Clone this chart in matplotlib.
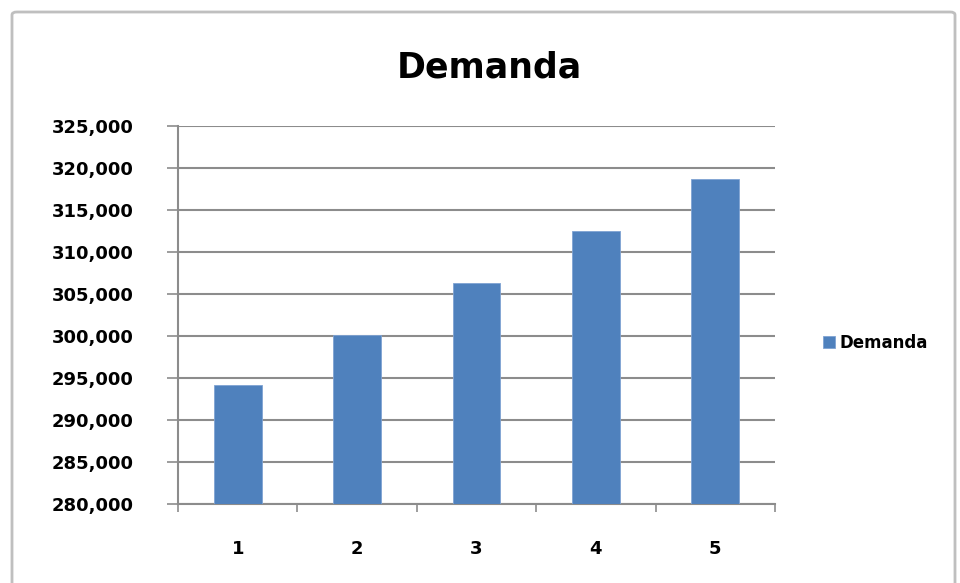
import matplotlib.pyplot as plt
from matplotlib.patches import FancyBboxPatch
from matplotlib.ticker import FuncFormatter, FixedLocator


# Valores
periodos = ["1", "2", "3", "4", "5"]
demanda = [294200, 300100, 306250, 312450, 318650]
y_ticks = list(range(280000, 325001, 5000))

fig = plt.figure(figsize=(9.6, 5.83), dpi=100)

# Marco exterior del gráfico (el borde inferior queda fuera de la imagen)
fig.patches.append(FancyBboxPatch((12/960, -0.05), 943/960, 1.05 - 12/583, boxstyle="round,pad=0,rounding_size=0.005",
                                  transform=fig.transFigure, fill=False, edgecolor='#bfbfbf', linewidth=2))

ax = fig.add_axes([178/960, 79/583, 597/960, 378/583])

x = range(1, len(periodos) + 1)
ax.bar(x, demanda, width=0.4, color='#4F81BD', edgecolor='#7fa3d3', linewidth=0.6, label='Demanda', zorder=3)

ax.set_ylim(280000, 325000)
ax.set_xlim(0.5, 5.5)
ax.set_yticks(y_ticks)
ax.yaxis.set_major_formatter(FuncFormatter(lambda v, p: f"{int(v):,}"))
ax.grid(axis='y', color='#8c8c8c', linewidth=1.5, zorder=0)

ax.set_xticks(list(x))
ax.set_xticklabels(periodos)
ax.xaxis.set_minor_locator(FixedLocator([0.5 + i for i in range(6)]))
ax.tick_params(axis='x', which='major', length=0, pad=26)
ax.tick_params(axis='x', which='minor', length=6, width=1.2, color='#8c8c8c', direction='out')
ax.tick_params(axis='y', length=8, width=1.2, color='#8c8c8c', direction='out', pad=24)

for lab in ax.get_xticklabels() + ax.get_yticklabels():
    lab.set_fontweight('bold')
    lab.set_fontsize(13)

for s in ['top', 'right']:
    ax.spines[s].set_visible(False)
for s in ['left', 'bottom']:
    ax.spines[s].set_color('#8c8c8c')
    ax.spines[s].set_linewidth(1.5)

fig.text(489/960, 1 - 68/583, "Demanda", ha='center', va='center', fontsize=25, fontweight='bold')

fig.legend(loc='center left', bbox_to_anchor=(808/960, 1 - 343/583), frameon=False,
           prop={'weight': 'bold', 'size': 12}, handlelength=0.7, handleheight=0.7, handletextpad=0.3)

fig.savefig("out.png", dpi=100)
